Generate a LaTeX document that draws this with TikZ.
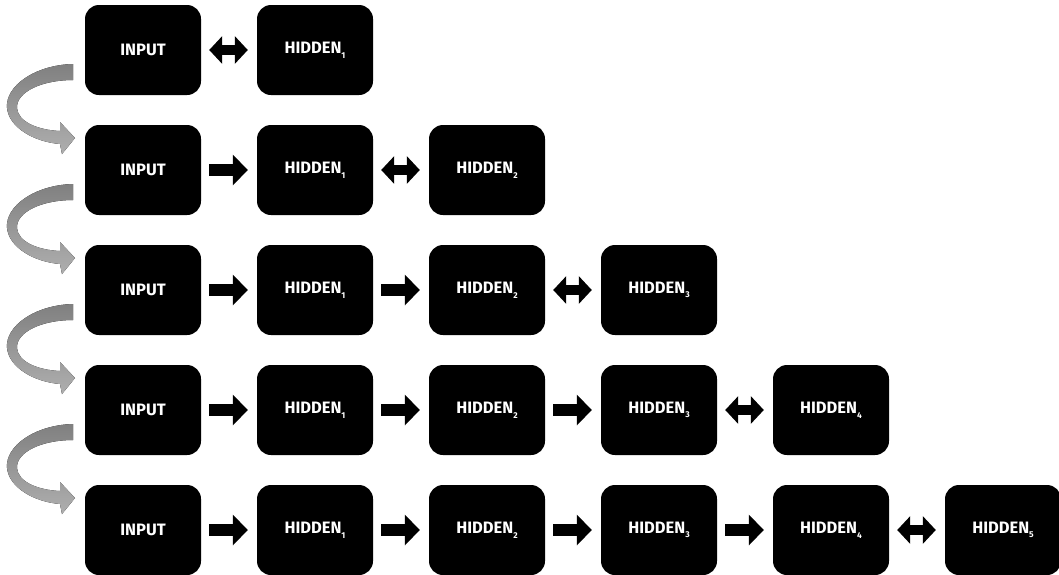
\documentclass[tikz,border=0pt]{standalone}
\usepackage{fontspec}
\setmainfont{Fira Sans}
\usetikzlibrary{arrows.meta}
\newcommand{\hsub}[1]{\raisebox{-0.28em}{\fontsize{8.5}{8.5}\selectfont #1}}
\definecolor{curltop}{RGB}{128,128,128}
\definecolor{curlbot}{RGB}{175,175,175}
\begin{document}
\begin{tikzpicture}[x=1pt,y=-1pt,
  layer/.style={fill=black, rounded corners=14pt, minimum width=116pt, minimum height=90pt,
    inner sep=0pt, text=white, font=\fontsize{16.5}{17}\selectfont\bfseries},
  fwd/.style={line width=12pt, -{Triangle[length=15pt,width=30pt]}, shorten <=8pt, shorten >=9pt},
  both/.style={line width=10pt, {Triangle[length=13pt,width=27pt]}-{Triangle[length=13pt,width=27pt]},
    shorten <=8pt, shorten >=9pt},
  curl/.style={top color=curltop, bottom color=curlbot, draw=none}]
\useasboundingbox (0,0) rectangle (1059,574);
\foreach \r in {1,...,5}{
  \pgfmathtruncatemacro{\yc}{50+120*(\r-1)}
  \foreach \c in {0,...,\r}{
    \pgfmathtruncatemacro{\xc}{143+172*\c}
    \ifnum\c=0
      \node[layer] (n-\r-\c) at (\xc,\yc) {INPUT};
    \else
      \node[layer] (n-\r-\c) at (\xc,\yc) {HIDDEN\hsub{\c}};
    \fi
  }
  \pgfmathtruncatemacro{\last}{\r-1}
  \ifnum\r>1
    \foreach \c in {1,...,\last}{
      \pgfmathtruncatemacro{\p}{\c-1}
      \draw[fwd] (n-\r-\p.east) -- (n-\r-\c.west);
    }
  \fi
  \draw[both] (n-\r-\last.east) -- (n-\r-\r.west);
}
\foreach \r in {1,...,4}{
  \begin{scope}[shift={(0,120*\r-120)}]
    \fill[curl] (73,64) .. controls (35,65) and (5,86) .. (7,108)
      .. controls (9,128) and (35,142) .. (60,144) -- (62,154) -- (75,138) -- (60,122) -- (60,131)
      .. controls (38,130) and (18,122) .. (17,108)
      .. controls (16,92) and (42,80) .. (73,80) -- cycle;
  \end{scope}
}
\end{tikzpicture}
\end{document}
